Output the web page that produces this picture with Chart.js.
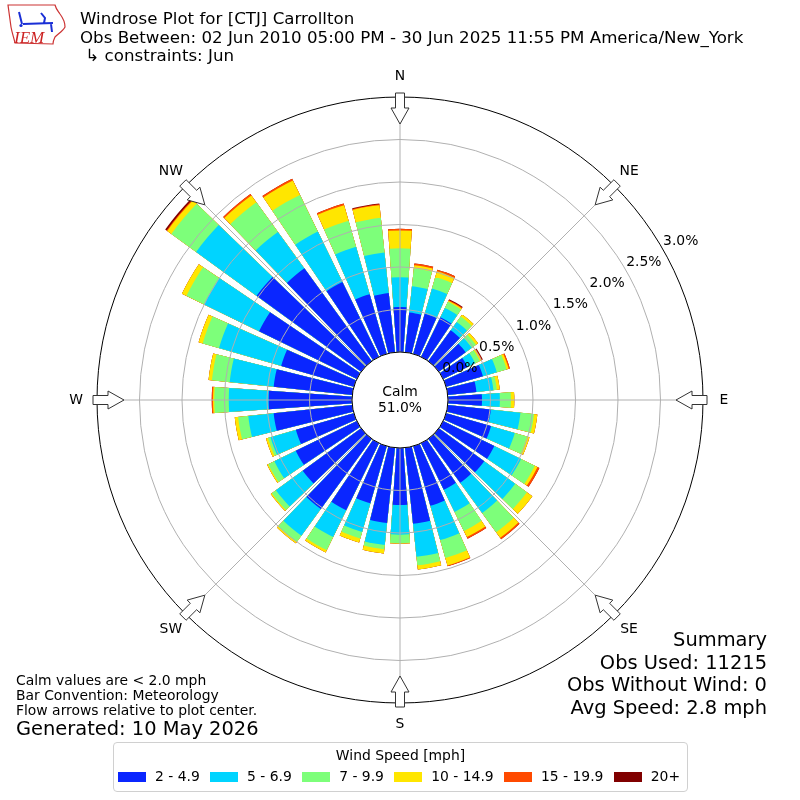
<!DOCTYPE html>
<html><head><meta charset="utf-8">
<script src="https://cdn.jsdelivr.net/npm/chart.js@4.4.1/dist/chart.umd.min.js"></script>
<style>
html,body{margin:0;padding:0;background:#fff;}
#wrap{position:relative;width:800px;height:800px;overflow:hidden;font-family:"DejaVu Sans",sans-serif;color:#000;}
#c{position:absolute;left:0;top:0;}
.t{position:absolute;white-space:pre;line-height:1;}
.h{font-size:16.67px;left:80px;}
.s{font-size:13.9px;left:16px;}
.r{font-size:19.44px;right:33px;text-align:right;}
#legend{position:absolute;left:113px;top:742px;width:573px;height:48px;border:1px solid #d0d0d0;border-radius:4px;background:#fff;}
#legTitle{position:absolute;left:0;width:100%;top:5.5px;text-align:center;font-size:13.9px;line-height:1;}
#legRow{position:absolute;left:4px;top:27px;display:flex;align-items:center;font-size:13.9px;line-height:1;white-space:pre;}
.ent{display:flex;align-items:center;margin-right:10.3px;}
.patch{width:28px;height:10px;margin-right:9px;}
</style></head><body>
<div id="wrap">
<canvas id="c" width="800" height="800"></canvas>
<svg style="position:absolute;left:0;top:0" width="70" height="56" viewBox="0 0 70 56">
  <path d="M8,5 L55,5 C56,9 58,11 60,14 C63,18 65,22 65,27 C63,31 58,34 55,37 C54,39 53,41 53,44 L15,43 C14,38 12,33 11,27 C10,20 9,12 8,5 Z" fill="none" stroke="#cc3333" stroke-width="1.2"/>
  <path d="M19,12 L22,24 M23,24 L53,23 M41,13 L45,18 L44,23 M51,24 L52,32" stroke="#1a2fd6" stroke-width="2" fill="none"/>
  <circle cx="21" cy="25.5" r="1.6" fill="#1a2fd6"/>
  <text x="14" y="42.5" font-family="Liberation Serif, serif" font-style="italic" font-size="17" fill="#cc2222">IEM</text>
</svg>
<div class="t h" id="title1" style="top:11.4px"></div>
<div class="t h" id="title2" style="top:29.7px"></div>
<div class="t h" id="title3" style="top:48px"></div>
<div class="t s" id="note1" style="top:673.6px"></div>
<div class="t s" id="note2" style="top:688.6px"></div>
<div class="t s" id="note3" style="top:703.5px"></div>
<div class="t s" id="gen" style="top:719px;font-size:19.44px"></div>
<div class="t r" id="sum0" style="top:629.5px"></div>
<div class="t r" id="sum1" style="top:652.5px"></div>
<div class="t r" id="sum2" style="top:675px"></div>
<div class="t r" id="sum3" style="top:697.5px"></div>
<div id="legend"><div id="legTitle"></div><div id="legRow"></div></div>
</div>
<script>
// ---- data ----
const directions = [0,10,20,30,40,50,60,70,80,90,100,110,120,130,140,150,160,170,180,190,200,210,220,230,240,250,260,270,280,290,300,310,320,330,340,350];
const speedBins = ['2 - 4.9','5 - 6.9','7 - 9.9','10 - 14.9','15 - 19.9','20+'];
// percent of observations per direction and speed bin
const speed2to5   = [0.53,0.47,0.49,0.52,0.45,0.39,0.32,0.45,0.34,0.40,0.51,0.55,0.67,0.66,0.64,0.61,0.73,0.90,0.67,0.89,0.70,0.88,1.02,0.85,0.80,0.71,0.93,0.98,0.93,0.89,1.28,1.52,1.35,0.98,0.73,0.70];
const speed5to7   = [0.35,0.31,0.31,0.12,0.12,0.09,0.10,0.17,0.20,0.21,0.35,0.29,0.35,0.45,0.44,0.29,0.42,0.39,0.35,0.26,0.35,0.35,0.39,0.39,0.28,0.31,0.30,0.47,0.52,0.76,0.72,0.88,0.53,0.66,0.58,0.48];
const speed7to10  = [0.34,0.21,0.14,0.08,0.08,0.06,0.06,0.12,0.04,0.13,0.16,0.15,0.18,0.17,0.28,0.25,0.22,0.10,0.10,0.05,0.08,0.17,0.09,0.06,0.08,0.03,0.12,0.17,0.21,0.20,0.23,0.36,0.43,0.48,0.32,0.41];
const speed10to15 = [0.21,0.04,0.07,0.015,0.03,0.03,0.02,0.025,0.035,0.04,0.04,0.03,0.035,0.08,0.08,0.08,0.09,0.05,0.005,0.05,0.05,0.03,0.02,0.015,0.015,0.025,0.04,0.015,0.04,0.05,0.06,0.06,0.10,0.19,0.19,0.15];
const speed15to20 = [0.02,0.02,0.02,0.01,0,0,0.01,0.015,0,0,0,0,0.025,0,0.02,0.02,0.01,0,0,0,0,0,0,0,0,0,0,0.015,0,0,0,0.01,0.02,0.02,0.02,0.01];
const speed20up   = [0,0,0,0.01,0,0,0.01,0,0,0,0,0,0,0,0,0,0,0,0,0,0,0,0,0,0,0,0,0,0,0,0,0.02,0,0,0,0.01];
const tickValues = [0,0.5,1.0,1.5,2.0,2.5,3.0];
const compassNames = ['N','NE','E','SE','S','SW','W','NW'];
const compassAngles = [0,45,90,135,180,225,270,315];
const calmPercent = 51.0;
const titleLines = ['Windrose Plot for [CTJ] Carrollton','Obs Between: 02 Jun 2010 05:00 PM - 30 Jun 2025 11:55 PM America/New_York',' \u21b3 constraints: Jun'];
const noteLines = ['Calm values are < 2.0 mph','Bar Convention: Meteorology','Flow arrows relative to plot center.'];
const generatedText = 'Generated: 10 May 2026';
const summaryLines = ['Summary','Obs Used: 11215','Obs Without Wind: 0','Avg Speed: 2.8 mph'];
const legendTitle = 'Wind Speed [mph]';

// ---- style ----
const binColors = ['#0a26ff','#00d4ff','#7dff7a','#ffe600','#ff4a00','#800000'];
const BAR_DEG = 8, GAP_DEG = 2;
const rMin = -0.5647, rMax = 3.0;
const FONT = '"DejaVu Sans", sans-serif';

// ---- texts ----
titleLines.forEach((t,i)=>document.getElementById('title'+(i+1)).textContent=t);
noteLines.forEach((t,i)=>document.getElementById('note'+(i+1)).textContent=t);
document.getElementById('gen').textContent = generatedText;
summaryLines.forEach((t,i)=>document.getElementById('sum'+i).textContent=t);
document.getElementById('legTitle').textContent = legendTitle;
const row = document.getElementById('legRow');
speedBins.forEach((name,k)=>{
  const e=document.createElement('div'); e.className='ent';
  const p=document.createElement('div'); p.className='patch'; p.style.background=binColors[k];
  const s=document.createElement('span'); s.textContent=name;
  e.appendChild(p); e.appendChild(s); row.appendChild(e);
});

// ---- chart ----
const series = [speed2to5, speed5to7, speed7to10, speed10to15, speed15to20, speed20up];
const cumulative = series.map((_, k) => directions.map((_, i) => {
  let s = 0; for (let j = 0; j <= k; j++) s += series[j][i]; return s;
}));
const labels = directions.flatMap(d => [d + '\u00b0', '']);
const datasets = speedBins.map((name, k) => ({
  label: name,
  data: directions.flatMap((d, i) => [cumulative[k][i], 0]),
  backgroundColor: c => (c.dataIndex % 2 ? 'rgba(0,0,0,0)' : binColors[k]),
  borderWidth: 0,
  angle: c => (c.dataIndex % 2 ? GAP_DEG : BAR_DEG)
}));

const decor = {
  id: 'decor',
  afterDraw(chart) {
    const s = chart.scales.r, ctx = chart.ctx;
    const cx = s.xCenter, cy = s.yCenter;
    const R = s.getDistanceFromCenterForValue(rMax);
    const r0 = s.getDistanceFromCenterForValue(0);
    const pt = (r, deg, w) => {
      const a = deg * Math.PI / 180, sn = Math.sin(a), cs = Math.cos(a);
      w = w || 0;
      return [cx + r * sn + w * cs, cy - r * cs + w * sn];
    };
    ctx.save();
    // spokes
    ctx.strokeStyle = '#b0b0b0'; ctx.lineWidth = 1;
    compassAngles.forEach(a => {
      const p1 = pt(r0, a), p2 = pt(R, a);
      ctx.beginPath(); ctx.moveTo(p1[0], p1[1]); ctx.lineTo(p2[0], p2[1]); ctx.stroke();
    });
    // calm circle
    ctx.beginPath(); ctx.arc(cx, cy, r0, 0, Math.PI * 2);
    ctx.fillStyle = '#fff'; ctx.fill();
    ctx.strokeStyle = '#000'; ctx.lineWidth = 1; ctx.stroke();
    ctx.fillStyle = '#000'; ctx.textAlign = 'center'; ctx.textBaseline = 'middle';
    ctx.font = '13.9px ' + FONT;
    ctx.fillText('Calm', cx, cy - 8);
    ctx.fillText(calmPercent.toFixed(1) + '%', cx, cy + 8);
    // radial tick labels
    tickValues.forEach(v => {
      const p = pt(s.getDistanceFromCenterForValue(v) + 20, 60);
      ctx.fillText(v.toFixed(1) + '%', p[0] + 1, p[1] + 2.5);
    });
    // arrows and compass labels
    compassAngles.forEach((a, i) => {
      const shape = [[R + 4, -4.5], [R - 11, -4.5], [R - 11, -9], [R - 27, 0], [R - 11, 9], [R - 11, 4.5], [R + 4, 4.5]];
      ctx.beginPath();
      shape.forEach(([r, w], j) => { const p = pt(r, a, w); j ? ctx.lineTo(p[0], p[1]) : ctx.moveTo(p[0], p[1]); });
      ctx.closePath();
      ctx.fillStyle = '#fff'; ctx.fill();
      ctx.strokeStyle = '#333'; ctx.lineWidth = 1; ctx.stroke();
      const lp = pt(R + 21, a);
      ctx.fillStyle = '#000';
      ctx.fillText(compassNames[i], lp[0], lp[1]);
    });
    ctx.restore();
  }
};

new Chart(document.getElementById('c'), {
  type: 'polarArea',
  data: { labels, datasets },
  options: {
    responsive: false,
    animation: false,
    devicePixelRatio: 1,
    layout: { padding: 97 },
    plugins: { legend: { display: false }, tooltip: { enabled: false } },
    elements: { arc: { borderWidth: 0 } },
    scales: {
      r: {
        min: rMin, max: rMax, startAngle: -BAR_DEG / 2, bounds: 'data',
        ticks: { display: false },
        afterBuildTicks: sc => { sc.ticks = tickValues.map(v => ({ value: v })); },
        grid: { circular: true, z: 1, lineWidth: 1,
          color: c => (c.tick && c.tick.value === rMax ? '#000' : '#b0b0b0') },
        angleLines: { display: false },
        pointLabels: { display: false }
      }
    }
  },
  plugins: [decor]
});
</script>
</body></html>
